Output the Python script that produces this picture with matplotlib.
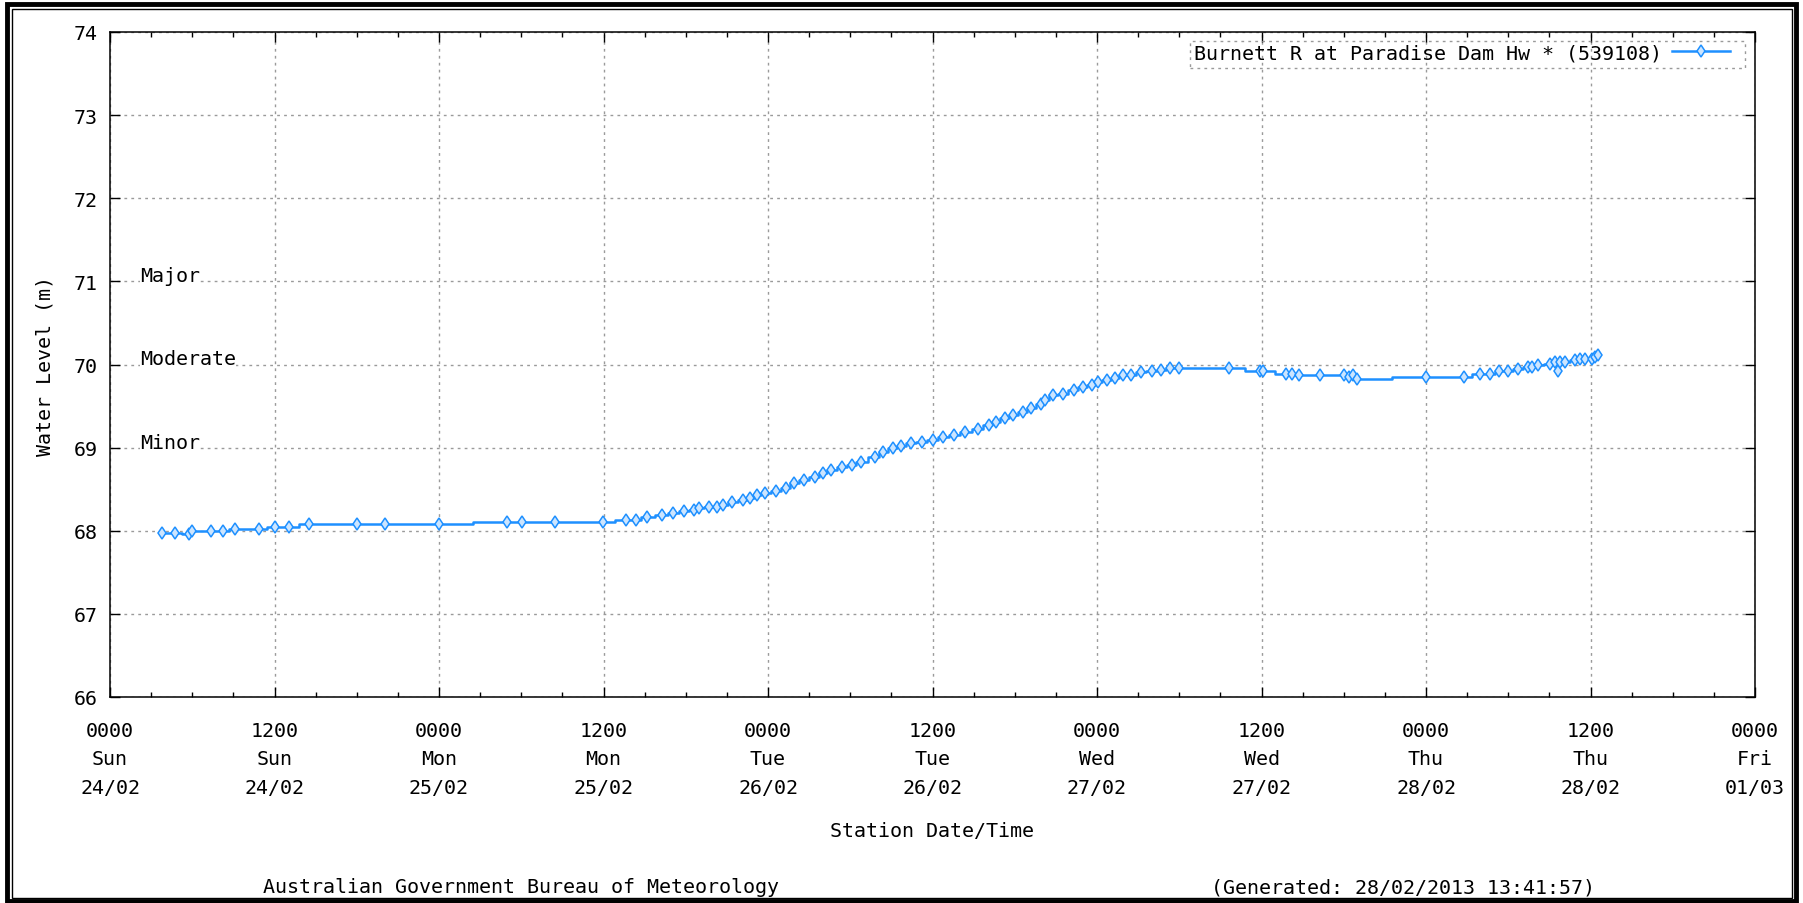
import matplotlib
matplotlib.use('Agg')
import matplotlib.pyplot as plt
from matplotlib.patches import Rectangle

# hours since Sun 24/02 0000, water level (m)
hours = [3.82, 4.74, 5.78, 5.96, 7.37, 8.26, 9.12, 10.89, 12.04, 13.08,
         14.54, 18.04, 20.06, 24.02, 28.98, 30.03, 32.46, 35.99, 37.62, 38.35,
         39.15, 40.3, 41.1, 41.9, 42.6, 43.0, 43.7, 44.3, 44.7, 45.4,
         46.2, 46.7, 47.2, 47.8, 48.6, 49.3, 49.9, 50.6, 51.4, 52.0,
         52.6, 53.4, 54.1, 54.8, 55.8, 56.4, 57.1, 57.7, 58.4, 59.2,
         60.0, 60.8, 61.6, 62.4, 63.3, 64.1, 64.6, 65.3, 65.9, 66.6,
         67.2, 67.9, 68.2, 68.8, 69.5, 70.3, 71.0, 71.6, 72.1, 72.7,
         73.3, 73.9, 74.5, 75.2, 76.0, 76.7, 77.35, 78.0, 81.65, 83.9,
         84.1, 85.8, 86.2, 86.7, 88.3, 90.0, 90.4, 90.7, 91.0, 96.0,
         98.75, 99.94, 100.67, 101.35, 102.0, 102.73, 103.46, 103.7, 104.19, 105.04,
         105.41, 105.65, 105.77, 106.14, 106.87, 107.23, 107.6, 108.09, 108.33, 108.57]
levels = [67.97, 67.97, 67.96, 68.0, 68.0, 68.0, 68.02, 68.02, 68.05, 68.05,
          68.08, 68.08, 68.08, 68.08, 68.11, 68.11, 68.11, 68.11, 68.13, 68.13,
          68.16, 68.19, 68.21, 68.24, 68.25, 68.27, 68.29, 68.29, 68.31, 68.35,
          68.37, 68.40, 68.43, 68.45, 68.48, 68.51, 68.57, 68.61, 68.65, 68.69,
          68.73, 68.77, 68.79, 68.83, 68.89, 68.95, 68.99, 69.02, 69.05, 69.07,
          69.09, 69.13, 69.15, 69.19, 69.23, 69.27, 69.31, 69.36, 69.39, 69.43,
          69.48, 69.53, 69.57, 69.63, 69.65, 69.69, 69.73, 69.75, 69.79, 69.81,
          69.84, 69.87, 69.87, 69.91, 69.92, 69.93, 69.96, 69.96, 69.96, 69.92,
          69.92, 69.89, 69.89, 69.87, 69.87, 69.87, 69.85, 69.87, 69.83, 69.85,
          69.85, 69.89, 69.89, 69.92, 69.92, 69.94, 69.97, 69.97, 70.0, 70.01,
          70.03, 69.92, 70.03, 70.03, 70.05, 70.07, 70.07, 70.07, 70.09, 70.11]

tick_hours = [0, 12, 24, 36, 48, 60, 72, 84, 96, 108, 120]
tick_times = ['0000', '1200', '0000', '1200', '0000', '1200', '0000', '1200', '0000', '1200', '0000']
tick_days = ['Sun', 'Sun', 'Mon', 'Mon', 'Tue', 'Tue', 'Wed', 'Wed', 'Thu', 'Thu', 'Fri']
tick_dates = ['24/02', '24/02', '25/02', '25/02', '26/02', '26/02', '27/02', '27/02', '28/02', '28/02', '01/03']

flood_names = ['Major', 'Moderate', 'Minor']
flood_levels = [71, 70, 69]

series_name = 'Burnett R at Paradise Dam Hw * (539108)'
blue = '#1E90FF'

plt.rcParams['font.family'] = ['DejaVu Sans Mono']
plt.rcParams['font.size'] = 14.4

W, H = 1803, 904
fig = plt.figure(figsize=(W / 100, H / 100), dpi=100)
ax = fig.add_axes([110 / W, 1 - 698 / H, (1755 - 110) / W, (698 - 33) / H])

ax.plot(hours, levels, drawstyle='steps-mid', color=blue, lw=1.8,
        marker='d', ms=6.5, mfc='#cce5ff', mec=blue, mew=1.1, label=series_name, zorder=3)

ax.set_xlim(0, 120)
ax.set_ylim(66, 74)
ax.set_xticks(tick_hours)
ax.set_xticklabels([t + '\n' + d + '\n' + dt for t, d, dt in zip(tick_times, tick_days, tick_dates)],
                   linespacing=1.65)
ax.set_xticks(range(0, 121, 3), minor=True)
ax.set_yticks(range(66, 75))
ax.tick_params(which='both', direction='in', top=True, right=True, width=1)
ax.tick_params(which='major', length=7)
ax.tick_params(which='minor', length=3.5)
ax.tick_params(axis='x', pad=17)
ax.tick_params(axis='y', pad=9)
for s in ax.spines.values():
    s.set_linewidth(1.1)

ax.grid(True, which='major', color='#9a9a9a', lw=1.0, linestyle=(0, (2, 3)))

for name, lvl in zip(flood_names, flood_levels):
    ax.text(2.2, lvl, name, ha='left', va='baseline', zorder=2,
            bbox=dict(facecolor='white', edgecolor='none', pad=0))

ax.set_ylabel('Water Level (m)', labelpad=14)
ax.set_xlabel('Station Date/Time', labelpad=17)

leg = ax.legend(loc='upper right', bbox_to_anchor=(1733 / W, 1 - 41 / H),
                bbox_transform=fig.transFigure, borderaxespad=0, markerfirst=False,
                frameon=False, handlelength=2.9, handletextpad=0.5, borderpad=0.15)
# dotted legend box, drawn separately so the padding matches
fig.patches.append(Rectangle((1190 / W, 1 - 69 / H), (1745 - 1190) / W, 27 / H,
                             transform=fig.transFigure, fill=False, edgecolor='#9a9a9a',
                             lw=1.0, linestyle=(0, (2, 3)), zorder=5))

fig.text(521 / W, 1 - 888 / H, 'Australian Government Bureau of Meteorology',
         ha='center', va='center')
fig.text(1403 / W, 1 - 888 / H, '(Generated: 28/02/2013 13:41:57)',
         ha='center', va='center')

# outer frame of the image
fig.patches.append(Rectangle((7 / W, 2.5 / H), (W - 14) / W, (H - 7) / H, transform=fig.transFigure,
                             fill=False, edgecolor='black', lw=3.5))
fig.patches.append(Rectangle((11.5 / W, 5 / H), (W - 23) / W, (H - 15) / H, transform=fig.transFigure,
                             fill=False, edgecolor='black', lw=1.0))

fig.savefig('out.png', dpi=100)
